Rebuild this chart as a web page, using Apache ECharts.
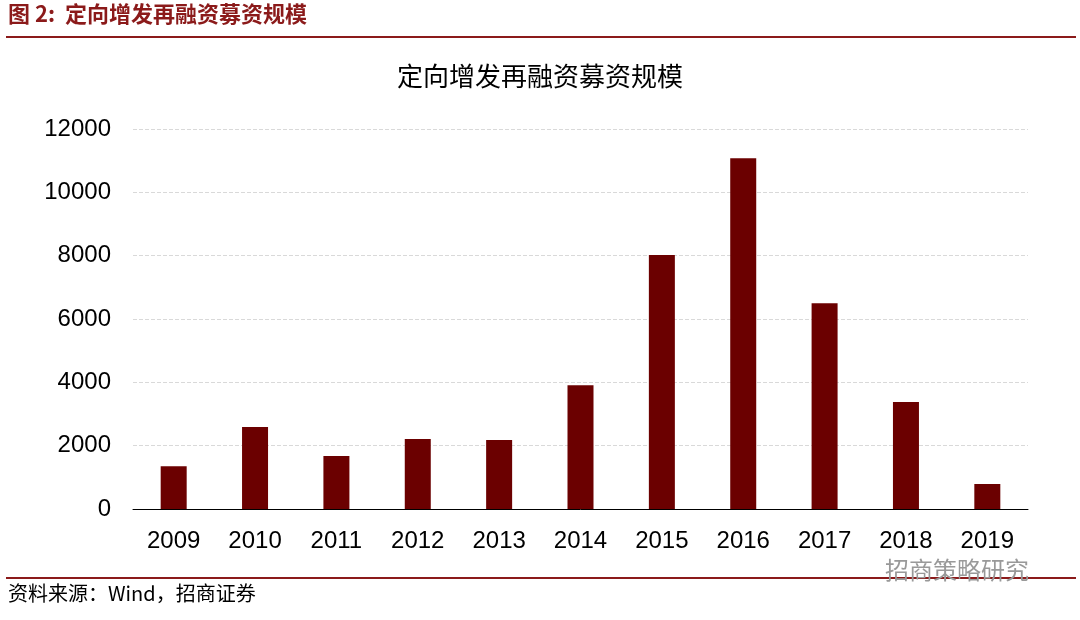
<!DOCTYPE html>
<html><head><meta charset="utf-8">
<script src="https://cdn.jsdelivr.net/npm/echarts@6/dist/echarts.min.js"></script>
<style>
html,body{margin:0;padding:0;background:#fff;}
#chart{width:1080px;height:620px;}
</style></head>
<body><div id="chart"></div>
<script>
// 数据
const years = ['2009','2010','2011','2012','2013','2014','2015','2016','2017','2018','2019'];
const amounts = [1350, 2590, 1670, 2210, 2180, 3910, 8020, 11080, 6500, 3380, 790];
const yTicks = [0, 2000, 4000, 6000, 8000, 10000, 12000];

const CJK = '"Noto Sans CJK SC", sans-serif';
const myChart = echarts.init(document.getElementById('chart'));
const option = {
  animation: false,
  title: {
    text: '定向增发再融资募资规模',
    left: 'center',
    top: 58,
    textStyle: { fontSize: 26, fontWeight: 'normal', color: '#000', fontFamily: CJK }
  },
  graphic: [
    { type: 'text', left: 8, top: 3, style: { text: '图 2:  定向增发再融资募资规模', fill: '#8B1A1A', font: 'bold 22px "Noto Sans CJK SC"' } },
    { type: 'rect', shape: { x: 6, y: 36, width: 1070, height: 2 }, style: { fill: '#8B1A1A' } },
    { type: 'rect', shape: { x: 6, y: 577, width: 1070, height: 2 }, style: { fill: '#8B1A1A' } },
    { type: 'text', left: 8, top: 583, style: { text: '资料来源：Wind，招商证券', fill: '#000', font: '20px "Noto Sans CJK SC"' } },
    { type: 'text', left: 885, top: 558, style: { text: '招商策略研究', fill: '#999', font: '24px "Noto Sans CJK SC"' } }
  ],
  grid: { left: 133, right: 52, top: 129, bottom: 111 },
  xAxis: {
    type: 'category',
    data: years,
    axisLine: { lineStyle: { color: '#000', width: 1 } },
    axisTick: { show: false },
    axisLabel: { fontSize: 24, color: '#000', margin: 20, fontFamily: 'Arial, "Liberation Sans"' }
  },
  yAxis: {
    type: 'value',
    min: yTicks[0], max: yTicks[yTicks.length - 1], interval: 2000,
    axisLine: { show: false },
    axisTick: { show: false },
    axisLabel: { fontSize: 24, color: '#000', margin: 22, fontFamily: 'Arial, "Liberation Sans"', formatter: v => String(v) },
    splitLine: { lineStyle: { color: '#d9d9d9', type: 'dashed', width: 1 } }
  },
  series: [{
    type: 'bar',
    data: amounts,
    barWidth: 26,
    itemStyle: { color: '#6B0000' }
  }]
};
myChart.setOption(option);
</script></body></html>
